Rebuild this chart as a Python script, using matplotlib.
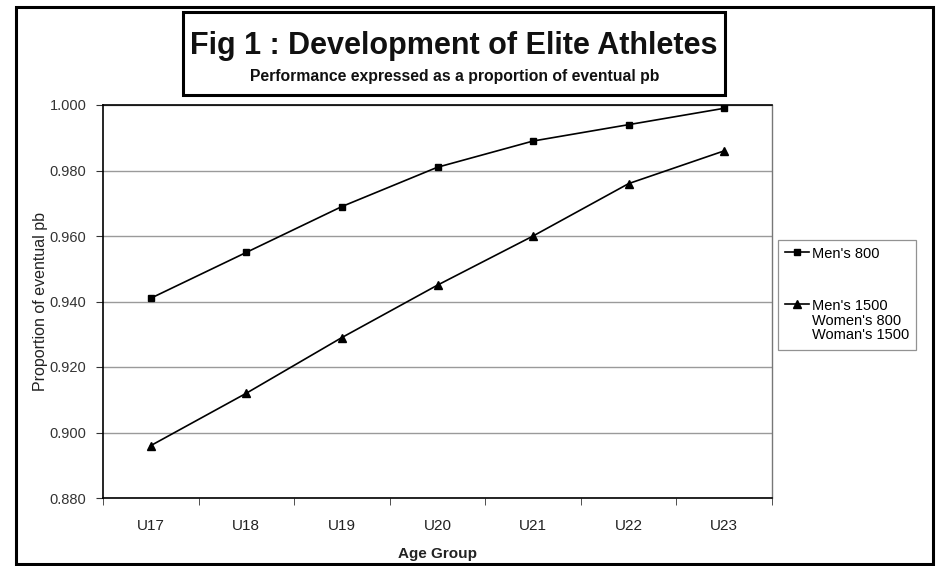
import matplotlib
matplotlib.use("Agg")
import matplotlib.pyplot as plt
from matplotlib.patches import Rectangle
from matplotlib.ticker import FixedLocator, FormatStrFormatter

plt.rcParams['font.family'] = ['Liberation Sans', 'DejaVu Sans']

# Age groups and the proportion of eventual personal best reached at each
age_groups = ["U17", "U18", "U19", "U20", "U21", "U22", "U23"]
mens_800 = [0.941, 0.955, 0.969, 0.981, 0.989, 0.994, 0.999]
others = [0.896, 0.912, 0.929, 0.945, 0.960, 0.976, 0.986]
series_labels = ["Men's 800", "Men's 1500\nWomen's 800\nWoman's 1500"]
y_ticks = [0.880, 0.900, 0.920, 0.940, 0.960, 0.980, 1.000]

W, H = 936, 566
fig = plt.figure(figsize=(W / 100, H / 100), dpi=100)

def fx(px):
    return px / W

def fy(py):
    return 1 - py / H

# outer frame of the figure
fig.patches.append(Rectangle((fx(16), fy(564)), fx(933) - fx(16), fy(7) - fy(564),
                             transform=fig.transFigure, fill=False,
                             edgecolor="black", linewidth=2.2))

# title box
fig.patches.append(Rectangle((fx(183), fy(95)), fx(725) - fx(183), fy(12) - fy(95),
                             transform=fig.transFigure, fill=True, facecolor="white",
                             edgecolor="black", linewidth=2.2, zorder=5))
fig.text(fx(454), fy(46), "Fig 1 : Development of Elite Athletes",
         ha="center", va="center", fontsize=22, fontweight="bold", color="#111111", zorder=6)
fig.text(fx(455), fy(76), "Performance expressed as a proportion of eventual pb",
         ha="center", va="center", fontsize=11.3, fontweight="bold", color="#111111", zorder=6)

ax = fig.add_axes([fx(103), fy(498), fx(772) - fx(103), fy(105) - fy(498)])
x = list(range(len(age_groups)))

ax.plot(x, mens_800, color="black", linewidth=1.2, marker="s", markersize=5,
        label=series_labels[0], zorder=3)
ax.plot(x, others, color="black", linewidth=1.2, marker="^", markersize=6,
        label=series_labels[1], zorder=3)

ax.set_xlim(-0.5, len(age_groups) - 0.5)
ax.set_ylim(0.880, 1.000)
ax.yaxis.set_major_locator(FixedLocator(y_ticks))
ax.yaxis.set_major_formatter(FormatStrFormatter("%.3f"))
ax.set_xticks(x)
ax.set_xticklabels(age_groups)
ax.set_xticks([i - 0.5 for i in range(len(age_groups) + 1)], minor=True)
ax.tick_params(axis="x", which="major", length=0, pad=15, labelsize=11, labelcolor="#222222")
ax.tick_params(axis="x", which="minor", length=5, direction="out", color="#333333")
ax.tick_params(axis="y", length=5, direction="out", pad=7, labelsize=10.5,
               labelcolor="#333333", color="#333333")

ax.grid(axis="y", color="#9a9a9a", linewidth=1.0)
ax.set_axisbelow(True)
for side in ("left", "bottom", "top"):
    ax.spines[side].set_color("black")
    ax.spines[side].set_linewidth(1.2)
ax.spines["right"].set_color("#777777")
ax.spines["right"].set_linewidth(1.0)

ax.set_xlabel("Age Group", fontsize=11, fontweight="bold", color="#222222", labelpad=10)
ax.set_ylabel("Proportion of eventual pb", fontsize=11.5, color="#222222", labelpad=1)

leg = fig.legend(loc="upper left", bbox_to_anchor=(fx(778), fy(240)),
                 frameon=True, fancybox=False, edgecolor="#777777", fontsize=10.5,
                 handlelength=1.6, handletextpad=0.2, labelspacing=2.6,
                 borderpad=0.5, borderaxespad=0)
leg.get_frame().set_linewidth(0.9)
for t in leg.get_texts():
    t.set_linespacing(1.05)
# keep each legend handle level with the first line of its label
for column in leg._legend_handle_box.get_children():
    for item in column.get_children():
        item.align = "top"

fig.savefig("out.png", dpi=100, facecolor="white")
